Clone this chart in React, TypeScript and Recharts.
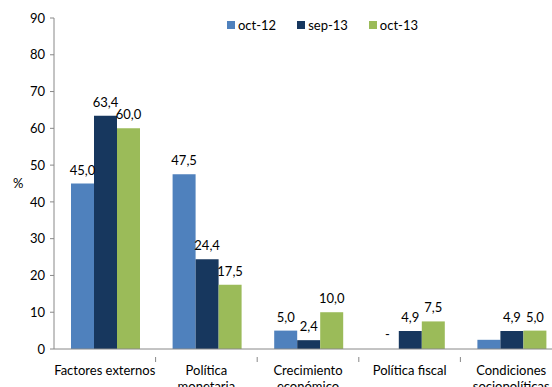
import React from "react";
import { BarChart, Bar, XAxis, YAxis, LabelList, Cell } from "recharts";

const categorias = [
  "Factores externos",
  "Política monetaria",
  "Crecimiento económico",
  "Política fiscal",
  "Condiciones sociopolíticas",
];
const oct12 = [45.0, 47.5, 5.0, 0, 2.5];
const sep13 = [63.4, 24.4, 2.4, 4.9, 4.9];
const oct13 = [60.0, 17.5, 10.0, 7.5, 5.0];
// etiquetas visibles sobre cada barra (null = sin etiqueta)
const etiquetasOct12 = ["45,0", "47,5", "5,0", "-", null];
const yTicks = [0, 10, 20, 30, 40, 50, 60, 70, 80, 90];

const series = [
  { key: "oct12", name: "oct-12", color: "#4F81BD", values: oct12 },
  { key: "sep13", name: "sep-13", color: "#17375E", values: sep13 },
  { key: "oct13", name: "oct-13", color: "#9BBB59", values: oct13 },
];

const data = categorias.map((cat, i) => ({
  cat,
  oct12: oct12[i],
  sep13: sep13[i],
  oct13: oct13[i],
  lbl_oct12: etiquetasOct12[i],
  lbl_sep13: sep13[i].toFixed(1).replace(".", ","),
  lbl_oct13: oct13[i].toFixed(1).replace(".", ","),
}));

const FONT = "Lato, 'Open Sans', sans-serif";
const CHART_W = 570;
const Y_AXIS_W = 54;
const RIGHT = 8;
const BAND = (CHART_W - Y_AXIS_W - RIGHT) / categorias.length;

const CategoryTick = (props: any) => {
  const { x, y, payload } = props;
  const text: string = payload.value;
  let lines = [text];
  if (text.length > 17) {
    const idx = text.indexOf(" ");
    lines = [text.slice(0, idx), text.slice(idx + 1)];
  }
  return (
    <g>
      <line x1={x + BAND / 2} x2={x + BAND / 2} y1={y} y2={y + 5} stroke="#888" />
      <text x={x} y={y + 4} textAnchor="middle" fill="#000" fontSize={13} fontFamily={FONT}>
        {lines.map((l, i) => (
          <tspan key={i} x={x} dy={i === 0 ? 14 : 16}>
            {l}
          </tspan>
        ))}
      </text>
    </g>
  );
};

const BarLabel = (props: any) => {
  const { x, y, width, height, value } = props;
  if (value == null) return null;
  const top = Math.min(y, y + height);
  return (
    <text
      x={x + width / 2}
      y={top - 9}
      textAnchor="middle"
      fill="#000"
      fontSize={13}
      fontFamily={FONT}
    >
      {value}
    </text>
  );
};

export default function App() {
  return (
    <div
      style={{
        position: "absolute",
        left: 0,
        top: 0,
        width: 552,
        height: 387,
        overflow: "hidden",
        background: "#fff",
      }}
    >
      <div
        style={{
          position: "absolute",
          top: 17,
          left: 227,
          display: "flex",
          gap: 21,
          fontFamily: FONT,
          fontSize: 13,
          lineHeight: "16px",
          zIndex: 2,
        }}
      >
        {series.map((s) => (
          <div key={s.key} style={{ display: "flex", alignItems: "center" }}>
            <span
              style={{ width: 8, height: 8, background: s.color, marginRight: 3, display: "inline-block" }}
            />
            <span>{s.name}</span>
          </div>
        ))}
      </div>
      <BarChart
        width={CHART_W}
        height={387}
        data={data}
        margin={{ top: 18, right: RIGHT, left: 0, bottom: 8 }}
        barGap={0}
        barCategoryGap={17}
      >
        <XAxis
          dataKey="cat"
          axisLine={{ stroke: "#888" }}
          tickLine={false}
          tick={<CategoryTick />}
          height={30}
          interval={0}
        />
        <YAxis
          domain={[0, 90]}
          ticks={yTicks}
          width={Y_AXIS_W}
          axisLine={{ stroke: "#888" }}
          tickLine={{ stroke: "#888" }}
          tickSize={4}
          tick={{ fill: "#000", fontSize: 13, fontFamily: FONT, dx: -3 }}
          label={{ value: "%", position: "insideLeft", offset: 13, fill: "#000", fontSize: 13, fontFamily: FONT }}
        />
        {series.map((s) => (
          <Bar
            key={s.key}
            dataKey={s.key}
            name={s.name}
            fill={s.color}
            minPointSize={(v: number) => (v === 0 ? 1 : 0)}
            isAnimationActive={false}
          >
            {s.values.map((v, i) => (
              <Cell key={i} fill={v === 0 ? "transparent" : s.color} />
            ))}
            <LabelList dataKey={"lbl_" + s.key} content={<BarLabel />} />
          </Bar>
        ))}
      </BarChart>
    </div>
  );
}
